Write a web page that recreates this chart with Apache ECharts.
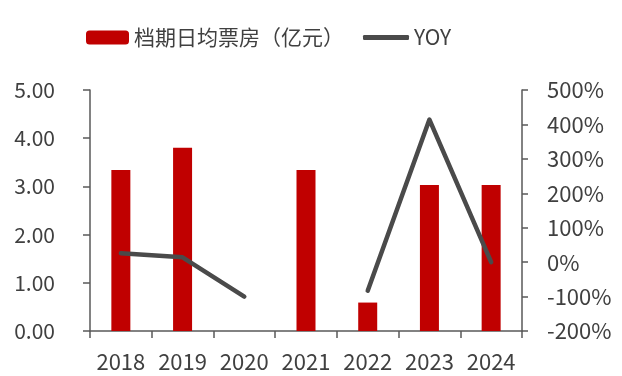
<!DOCTYPE html>
<html>
<head>
<meta charset="utf-8">
<script src="https://cdn.jsdelivr.net/npm/echarts@6/dist/echarts.min.js"></script>
<style>
  html, body { margin: 0; padding: 0; background: #fff; }
  #chart { width: 622px; height: 376px; }
</style>
</head>
<body>
<div id="chart"></div>
<script>
// Years on the category axis
const years = ['2018', '2019', '2020', '2021', '2022', '2023', '2024'];
// Average daily box office during the holiday window (100 million yuan)
const dailyBoxOffice = [3.34, 3.80, null, 3.34, 0.59, 3.03, 3.03];
// Year-over-year change (%)
const yoy = [26, 14, -100, null, -83, 414, 0];

const FONT = '"Noto Sans CJK SC", "Noto Sans", sans-serif';
const TEXT = '#404040';
const AXIS = '#595959';

const chart = echarts.init(document.getElementById('chart'), null, { renderer: 'canvas' });

chart.setOption({
  animation: false,
  backgroundColor: '#ffffff',
  textStyle: { fontFamily: FONT },
  legend: [
    {
      data: ['档期日均票房（亿元）'],
      left: 81, top: 22,
      itemWidth: 43, itemHeight: 14, itemGap: 0,
      textStyle: { fontSize: 21, color: TEXT, fontFamily: FONT }
    },
    {
      data: [{ name: 'YOY', icon: 'roundRect' }],
      left: 358, top: 22,
      itemWidth: 46, itemHeight: 5, itemGap: 0,
      textStyle: { fontSize: 21, color: TEXT, fontFamily: FONT }
    }
  ],
  grid: { left: 90, right: 100, top: 90, bottom: 45, containLabel: false },
  xAxis: {
    type: 'category',
    data: years,
    axisLine: { show: true, lineStyle: { color: AXIS, width: 1.5 } },
    axisTick: { show: true, length: 7, lineStyle: { color: AXIS, width: 1.5 } },
    axisLabel: { interval: 0, hideOverlap: false, fontSize: 22, color: TEXT, margin: 20, fontFamily: FONT }
  },
  yAxis: [
    {
      type: 'value', min: 0, max: 5, interval: 1,
      axisLine: { show: true, lineStyle: { color: AXIS, width: 1.5 } },
      axisTick: { show: true, length: 7, lineStyle: { color: AXIS, width: 1.5 } },
      splitLine: { show: false },
      axisLabel: {
        fontSize: 21, color: TEXT, margin: 35, fontFamily: FONT,
        formatter: v => v.toFixed(2)
      }
    },
    {
      type: 'value', min: -200, max: 500, interval: 100,
      position: 'right',
      axisLine: { show: true, lineStyle: { color: AXIS, width: 1.5 } },
      axisTick: { show: true, length: 6, lineStyle: { color: AXIS, width: 1.5 } },
      splitLine: { show: false },
      axisLabel: {
        fontSize: 22, color: TEXT, margin: 25, fontFamily: FONT,
        formatter: v => v + '%'
      }
    }
  ],
  series: [
    {
      name: '档期日均票房（亿元）',
      type: 'bar',
      data: dailyBoxOffice,
      barWidth: 19,
      itemStyle: { color: '#C00000' }
    },
    {
      name: 'YOY',
      type: 'line',
      yAxisIndex: 1,
      data: yoy,
      symbol: 'none',
      connectNulls: false,
      lineStyle: { color: '#4a4a4a', width: 4.5, cap: 'round', join: 'round' },
      itemStyle: { color: '#4a4a4a' }
    }
  ]
});
</script>
</body>
</html>
